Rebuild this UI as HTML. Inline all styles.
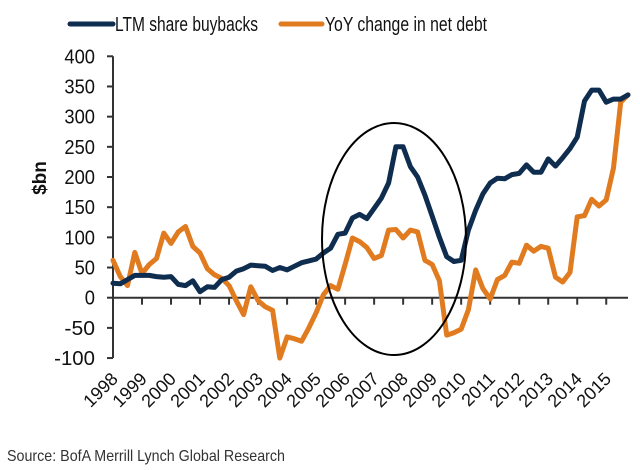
<!DOCTYPE html>
<html><head><meta charset="utf-8"><style>
html,body{margin:0;padding:0;background:#fff;}
svg{display:block;font-family:"Liberation Sans",sans-serif;}
</style></head><body>
<svg id="chart" width="640" height="470" viewBox="0 0 640 470">
<g id="legend">
  <g>
    <line x1="70" y1="24" x2="113" y2="24" stroke="#0f2d4e" stroke-width="5" stroke-linecap="round"/>
    <text x="115" y="31" font-size="20" fill="#111" textLength="143" lengthAdjust="spacingAndGlyphs">LTM share buybacks</text>
  </g>
  <g>
    <line x1="281" y1="24" x2="322" y2="24" stroke="#e07b1f" stroke-width="5" stroke-linecap="round"/>
    <text x="325" y="31" font-size="20" fill="#111" textLength="162" lengthAdjust="spacingAndGlyphs">YoY change in net debt</text>
  </g>
</g>
<text transform="translate(46,178) rotate(-90)" text-anchor="middle" font-size="19" font-weight="bold" fill="#111">$bn</text>
<g id="yaxis"></g>
<g id="xaxis"></g>
<g id="series"></g>
<ellipse cx="394" cy="239" rx="72" ry="116" fill="none" stroke="#000" stroke-width="2"/>
<text x="7" y="461" font-size="16" fill="#333" textLength="278" lengthAdjust="spacingAndGlyphs">Source: BofA Merrill Lynch Global Research</text>
</svg>
<script>
const years = ["1998","1999","2000","2001","2002","2003","2004","2005","2006","2007","2008","2009","2010","2011","2012","2013","2014","2015"];
const yTicks = [400,350,300,250,200,150,100,50,0,-50,-100];
const buybacks = [24,23,30,37, 37,37,35,34, 35,22,20,28, 10,18,17,30, 34,44,48,54, 53,52,45,50, 46,52,58,61, 64,74,82,105, 107,132,138,131, 148,165,190,250, 250,217,200,170, 135,100,68,60, 62,112,145,172, 190,198,197,204, 206,220,208,208, 230,218,232,247, 266,326,344,344, 324,329,329,336];
const netDebt = [62,35,20,75, 40,55,65,107, 90,109,118,85, 74,48,38,32, 20,-5,-28,18, -5,-15,-21,-100, -65,-68,-72,-50, -25,5,20,14, 55,99,93,83, 65,70,112,113, 99,112,109,62, 55,28,-62,-58, -52,-20,46,15, -2,30,37,59, 57,87,77,85, 82,34,26,42, 134,136,163,152, 162,215,324,336];

const NS="http://www.w3.org/2000/svg";
const X0=113, X1=628, Y0v=297.7, PXPER=0.6035;
const yS = v => Y0v - v*PXPER;
const nQ = buybacks.length;
const xQ = i => X0 + i*(X1-X0)/(nQ-1);
const yearW = (X1-X0)/(nQ-1)*4;
const xYear = k => X0 + k*yearW;
function mk(tag, attrs, parent){const e=document.createElementNS(NS,tag);for(const k in attrs)e.setAttribute(k,attrs[k]);parent.appendChild(e);return e;}

const ya=document.getElementById('yaxis');
mk('line',{x1:X0,y1:yS(400),x2:X0,y2:yS(-100),stroke:'#333','stroke-width':2},ya);
yTicks.forEach(v=>{
  const t=mk('line',{x1:X0-6,y1:yS(v),x2:X0,y2:yS(v),stroke:'#333','stroke-width':2},ya);
  
  
  const l=mk('text',{x:95,y:yS(v)+7,'text-anchor':'end','font-size':20,fill:'#111'},ya);
  
  
  l.textContent=String(v);
  l.setAttribute('textLength', String(v).length*10.2);
  l.setAttribute('lengthAdjust','spacingAndGlyphs');
});
const xa=document.getElementById('xaxis');
years.forEach((y,k)=>{
  if(k>0){
    const t=mk('line',{x1:xYear(k),y1:yS(0),x2:xYear(k),y2:yS(0)+7,stroke:'#333','stroke-width':2},xa);
    
    
  }
  const l=mk('text',{'text-anchor':'end','font-size':18,fill:'#111',transform:`translate(${xYear(k)+6},${380}) rotate(-45)`},xa);
  
  
  l.textContent=y;
});
const sg=document.getElementById('series');
function line(data,color,name){
  const d=data.map((v,i)=>(i?'L':'M')+xQ(i).toFixed(1)+','+yS(v).toFixed(1)).join('');
  const p=mk('path',{d:d,fill:'none',stroke:color,'stroke-width':5,'stroke-linejoin':'round','stroke-linecap':'round'},sg);
  
  
}
line(netDebt,'#e07b1f','net-debt-line');
line(buybacks,'#0f2d4e','buybacks-line');
mk('line',{x1:X0,y1:yS(0),x2:X1,y2:yS(0),stroke:'#333','stroke-width':2},xa);
</script>
</body></html>
